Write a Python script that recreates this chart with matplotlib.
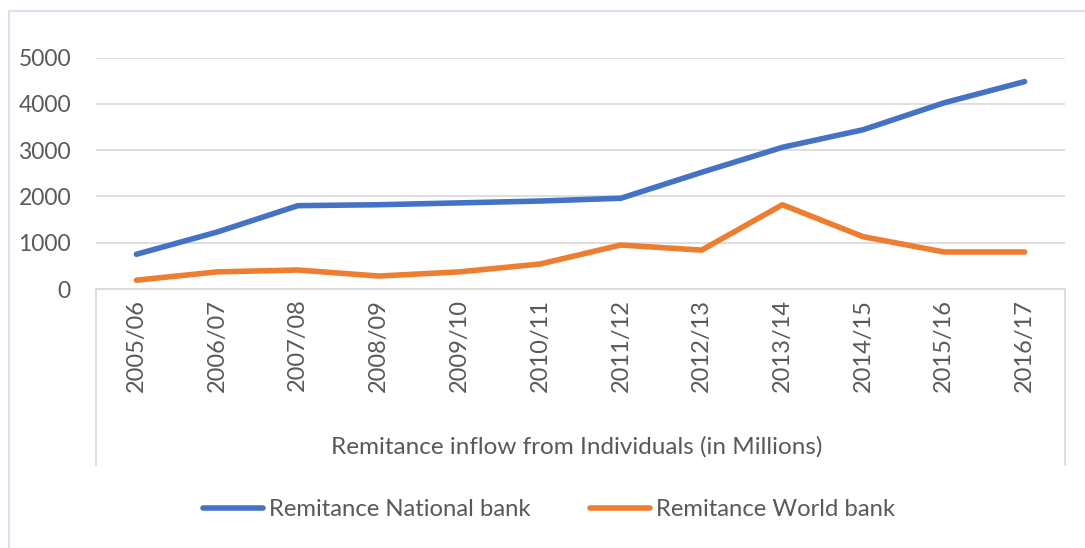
import matplotlib.pyplot as plt
from matplotlib.lines import Line2D

plt.rcParams['font.family'] = ['Lato', 'DejaVu Sans']

years = ["2005/06", "2006/07", "2007/08", "2008/09", "2009/10", "2010/11",
         "2011/12", "2012/13", "2013/14", "2014/15", "2015/16", "2016/17"]
national_bank = [750, 1230, 1800, 1820, 1860, 1900, 1960, 2520, 3060, 3440, 4020, 4480]
world_bank = [190, 370, 410, 280, 370, 540, 950, 840, 1820, 1130, 800, 800]

W, H = 1085, 548
fig = plt.figure(figsize=(W / 100, H / 100), dpi=100)


def fx(px):
    return px / W


def fy(py):
    return 1 - py / H


ax = fig.add_axes([fx(96), fy(289), fx(1065) - fx(96), fy(57.5) - fy(289)])

x = list(range(len(years)))
ax.plot(x, national_bank, color='#4472C4', lw=4, solid_capstyle='round',
        label='Remitance National bank')
ax.plot(x, world_bank, color='#ED7D31', lw=4, solid_capstyle='round',
        label='Remitance World bank')

ax.set_xlim(-0.5, len(years) - 0.5)
ax.set_ylim(0, 5000)
ax.set_yticks(range(0, 5001, 1000))
ax.set_xticks(x)
ax.set_xticklabels(years, rotation=90)
ax.grid(axis='y', color='#d9d9d9', lw=1.2)
ax.set_axisbelow(True)

for s in ['top', 'right', 'left']:
    ax.spines[s].set_visible(False)
ax.spines['bottom'].set_color('#d9d9d9')
ax.spines['bottom'].set_linewidth(1.2)
ax.tick_params(axis='both', length=0, colors='#595959', labelsize=16.5)
ax.tick_params(axis='x', labelsize=17)
ax.tick_params(axis='y', pad=18)
ax.tick_params(axis='x', pad=7)

# category box lines below the axis
for px in (95.5, 1064.5):
    fig.add_artist(Line2D([fx(px), fx(px)], [fy(289), fy(465)],
                          color='#d9d9d9', lw=1.2))

fig.text(fx(577), fy(447), 'Remitance inflow from Individuals (in Millions)',
         ha='center', va='center', fontsize=17.5, color='#595959')

# outer border (only top and left are visible)
fig.add_artist(Line2D([fx(9), fx(9), 1], [0, fy(11), fy(11)],
                      color='#e3dcef', lw=1.5))

leg = fig.legend(loc='center', bbox_to_anchor=(fx(549), fy(510)), ncol=2,
                 frameon=False, fontsize=17.2, handlelength=2.5,
                 handletextpad=0.25, columnspacing=2.5)
for t in leg.get_texts():
    t.set_color('#595959')

fig.savefig('out.png', dpi=100)
